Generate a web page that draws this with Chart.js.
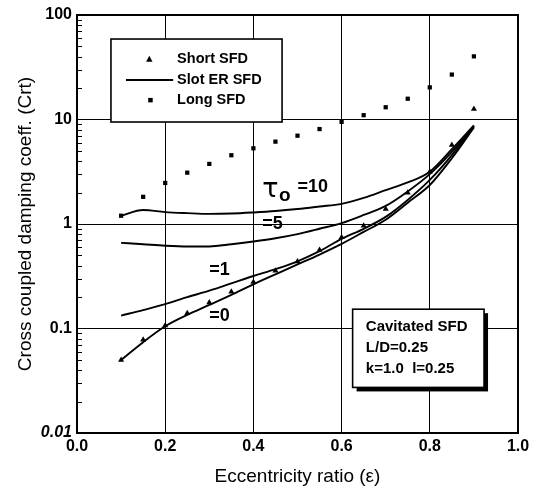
<!DOCTYPE html>
<html>
<head>
<meta charset="utf-8">
<title>Cross coupled damping coefficient</title>
<script src="https://cdn.jsdelivr.net/npm/chart.js@4.4.0/dist/chart.umd.min.js"></script>
<style>
  html, body { margin: 0; padding: 0; background: #fff; }
  #wrap { width: 537px; height: 488px; }
</style>
</head>
<body>
<div id="wrap"><canvas id="crtChart" width="537" height="488"></canvas></div>
<script>
// Eccentricity ratio samples (x)
const eccentricity = [0.1, 0.15, 0.2, 0.25, 0.3, 0.35, 0.4, 0.45, 0.5, 0.55, 0.6, 0.65, 0.7, 0.75, 0.8, 0.85, 0.9];

// Short SFD (triangles) and Long SFD (squares)
const shortSfd = [0.050, 0.078, 0.107, 0.140, 0.177, 0.225, 0.278, 0.357, 0.437, 0.565, 0.745, 0.96, 1.39, 1.99, 3.17, 5.7, 12.6];
const longSfd = [1.2, 1.82, 2.47, 3.1, 3.76, 4.55, 5.3, 6.14, 7.0, 8.1, 9.5, 11.0, 13.1, 15.8, 20.3, 26.9, 40.2];

// Slot ER SFD curves for tau_o = 0, 1, 5, 10
const slotTau0 = [0.050, 0.074, 0.105, 0.135, 0.168, 0.21, 0.265, 0.33, 0.41, 0.51, 0.645, 0.84, 1.1, 1.6, 2.36, 4.26, 8.4];
const slotTau1 = [0.133, 0.150, 0.171, 0.20, 0.23, 0.27, 0.318, 0.37, 0.44, 0.55, 0.72, 0.90, 1.17, 1.7, 2.64, 4.57, 8.6];
const slotTau5 = [0.66, 0.64, 0.62, 0.61, 0.61, 0.64, 0.68, 0.73, 0.80, 0.90, 1.02, 1.22, 1.49, 2.05, 3.0, 4.9, 8.7];
const slotTau10 = [1.2, 1.36, 1.30, 1.27, 1.25, 1.26, 1.29, 1.33, 1.39, 1.47, 1.56, 1.78, 2.11, 2.5, 3.17, 5.2, 8.8];

// Axis ticks
const xTickValues = [0, 0.2, 0.4, 0.6, 0.8, 1.0];
const yDecades = [0.01, 0.1, 1, 10, 100];

// Texts
const legendLabels = ["Short SFD", "Slot ER SFD", "Long SFD"];
const noteLines = ["Cavitated SFD", "L/D=0.25", "k=1.0  l=0.25"];
const tauLabels = ["=10", "=5", "=1", "=0"];

const FONT = "'Liberation Sans', Arial, sans-serif";
const toPoints = vals => eccentricity.map((e, i) => ({ x: e, y: vals[i] }));
const isDecade = v => Math.abs(Math.log10(v) - Math.round(Math.log10(v))) < 1e-9;

// all log ticks (1..9 x 10^n), labels only on decades
const yTickValues = [];
yDecades.forEach((d, i) => {
    if (i === yDecades.length - 1) { yTickValues.push(d); return; }
    for (let m = 1; m <= 9; m++) yTickValues.push(m === 1 ? d : d * m);
});

const curveStyle = {
    type: "line",
    borderColor: "#000",
    borderWidth: 1.9,
    pointRadius: 0,
    fill: false,
    cubicInterpolationMode: "monotone"
};

// legend, notes, frame and minor ticks
const notesPlugin = {
    id: "notes",
    afterDatasetsDraw(chart) {
        const { ctx, chartArea: a, scales: { x, y } } = chart;
        const px = v => x.getPixelForValue(v);
        const py = v => y.getPixelForValue(v);
        ctx.save();

        // minor ticks on the left axis
        ctx.strokeStyle = "#000";
        ctx.lineWidth = 1;
        yTickValues.filter(v => !isDecade(v)).forEach(v => {
            const ty = Math.round(py(v)) + 0.5;
            ctx.beginPath();
            ctx.moveTo(a.left, ty);
            ctx.lineTo(a.left + 5, ty);
            ctx.stroke();
        });

        // frame
        ctx.lineWidth = 2;
        ctx.strokeRect(a.left, a.top, a.right - a.left, a.bottom - a.top);

        // tau labels
        ctx.fillStyle = "#000";
        ctx.textBaseline = "middle";
        ctx.textAlign = "left";
        ctx.font = "27px 'DejaVu Sans', sans-serif";
        ctx.fillText("τ", px(0.42), py(2.1));
        ctx.font = "bold 19px " + FONT;
        ctx.fillText("o", px(0.458), py(1.85));
        ctx.font = "bold 18px " + FONT;
        ctx.fillText(tauLabels[0], px(0.50), py(2.25));
        ctx.fillText(tauLabels[1], px(0.42), py(1.0));
        ctx.fillText(tauLabels[2], px(0.30), py(0.36));
        ctx.fillText(tauLabels[3], px(0.30), py(0.132));

        // legend box
        const lx0 = px(0.077), lx1 = px(0.465), ly0 = py(58.9), ly1 = py(9.46);
        ctx.fillStyle = "#fff";
        ctx.fillRect(lx0, ly0, lx1 - lx0, ly1 - ly0);
        ctx.lineWidth = 1.6;
        ctx.strokeRect(lx0, ly0, lx1 - lx0, ly1 - ly0);
        const rows = [37.7, 23.9, 15.4].map(py);
        ctx.fillStyle = "#000";
        // triangle
        const tx = px(0.164);
        ctx.beginPath();
        ctx.moveTo(tx, rows[0] - 3.5);
        ctx.lineTo(tx + 3.2, rows[0] + 2.5);
        ctx.lineTo(tx - 3.2, rows[0] + 2.5);
        ctx.closePath();
        ctx.fill();
        // line
        ctx.lineWidth = 1.9;
        ctx.beginPath();
        ctx.moveTo(px(0.111), rows[1]);
        ctx.lineTo(px(0.218), rows[1]);
        ctx.stroke();
        // square
        ctx.fillRect(px(0.166) - 2, rows[2] - 2, 4.5, 4.5);
        ctx.font = "bold 14.5px " + FONT;
        legendLabels.forEach((t, i) => ctx.fillText(t, px(0.227), rows[i]));

        // note box with drop shadow
        const nx0 = px(0.625), nx1 = px(0.923), ny0 = py(0.153), ny1 = py(0.0273);
        ctx.fillStyle = "#000";
        ctx.fillRect(nx0 + 4, ny0 + 4, nx1 - nx0, ny1 - ny0);
        ctx.fillStyle = "#fff";
        ctx.fillRect(nx0, ny0, nx1 - nx0, ny1 - ny0);
        ctx.lineWidth = 1.6;
        ctx.strokeRect(nx0, ny0, nx1 - nx0, ny1 - ny0);
        ctx.fillStyle = "#000";
        ctx.font = "bold 15px " + FONT;
        [0.1026, 0.0646, 0.0407].forEach((v, i) => ctx.fillText(noteLines[i], px(0.655), py(v)));

        ctx.restore();
    }
};

new Chart(document.getElementById("crtChart").getContext("2d"), {
    data: {
        datasets: [
            { ...curveStyle, label: "tau0", data: toPoints(slotTau0) },
            { ...curveStyle, label: "tau1", data: toPoints(slotTau1) },
            { ...curveStyle, label: "tau5", data: toPoints(slotTau5) },
            { ...curveStyle, label: "tau10", data: toPoints(slotTau10) },
            {
                type: "scatter", label: "Short SFD", data: toPoints(shortSfd),
                pointStyle: "triangle", pointRadius: 3.5, backgroundColor: "#000", borderColor: "#000", borderWidth: 0
            },
            {
                type: "scatter", label: "Long SFD", data: toPoints(longSfd),
                pointStyle: "rect", pointRadius: 3, backgroundColor: "#000", borderColor: "#000", borderWidth: 0
            }
        ]
    },
    options: {
        responsive: false,
        animation: false,
        devicePixelRatio: 1,
        layout: { padding: { top: 15, right: 19, bottom: 0, left: 0 } },
        plugins: {
            legend: { display: false },
            tooltip: { enabled: false }
        },
        scales: {
            x: {
                type: "linear",
                min: 0,
                max: 1,
                afterBuildTicks: s => { s.ticks = xTickValues.map(v => ({ value: v })); },
                afterFit: s => { s.height = 55; },
                ticks: {
                    color: "#000",
                    padding: 4,
                    font: { family: FONT, size: 16, weight: "bold" },
                    callback: v => Number(v).toFixed(1)
                },
                grid: { color: "#000", lineWidth: 1, drawTicks: false },
                border: { color: "#000", width: 2 },
                title: {
                    display: true,
                    text: "Eccentricity ratio (ε)",
                    color: "#000",
                    font: { family: FONT, size: 19 },
                    padding: { top: 0, bottom: 0 }
                }
            },
            y: {
                type: "logarithmic",
                min: 0.01,
                max: 100,
                afterBuildTicks: s => { s.ticks = yTickValues.map(v => ({ value: v })); },
                afterFit: s => { s.width = 77; },
                ticks: {
                    color: "#000",
                    padding: 5,
                    autoSkip: false,
                    font: ctx => ({ family: FONT, size: 16, weight: "bold", style: ctx.tick && ctx.tick.value === 0.01 ? "italic" : "normal" }),
                    callback: v => isDecade(v) ? String(v) : ""
                },
                grid: {
                    color: ctx => ctx.tick && isDecade(ctx.tick.value) ? "#000" : "rgba(0,0,0,0)",
                    lineWidth: 1,
                    drawTicks: false
                },
                border: { color: "#000", width: 2 },
                title: {
                    display: true,
                    text: "Cross coupled damping coeff. (Crt)",
                    color: "#000",
                    font: { family: FONT, size: 19 },
                    padding: { top: 14, bottom: 0 }
                }
            }
        }
    },
    plugins: [notesPlugin]
});
</script>
</body>
</html>
